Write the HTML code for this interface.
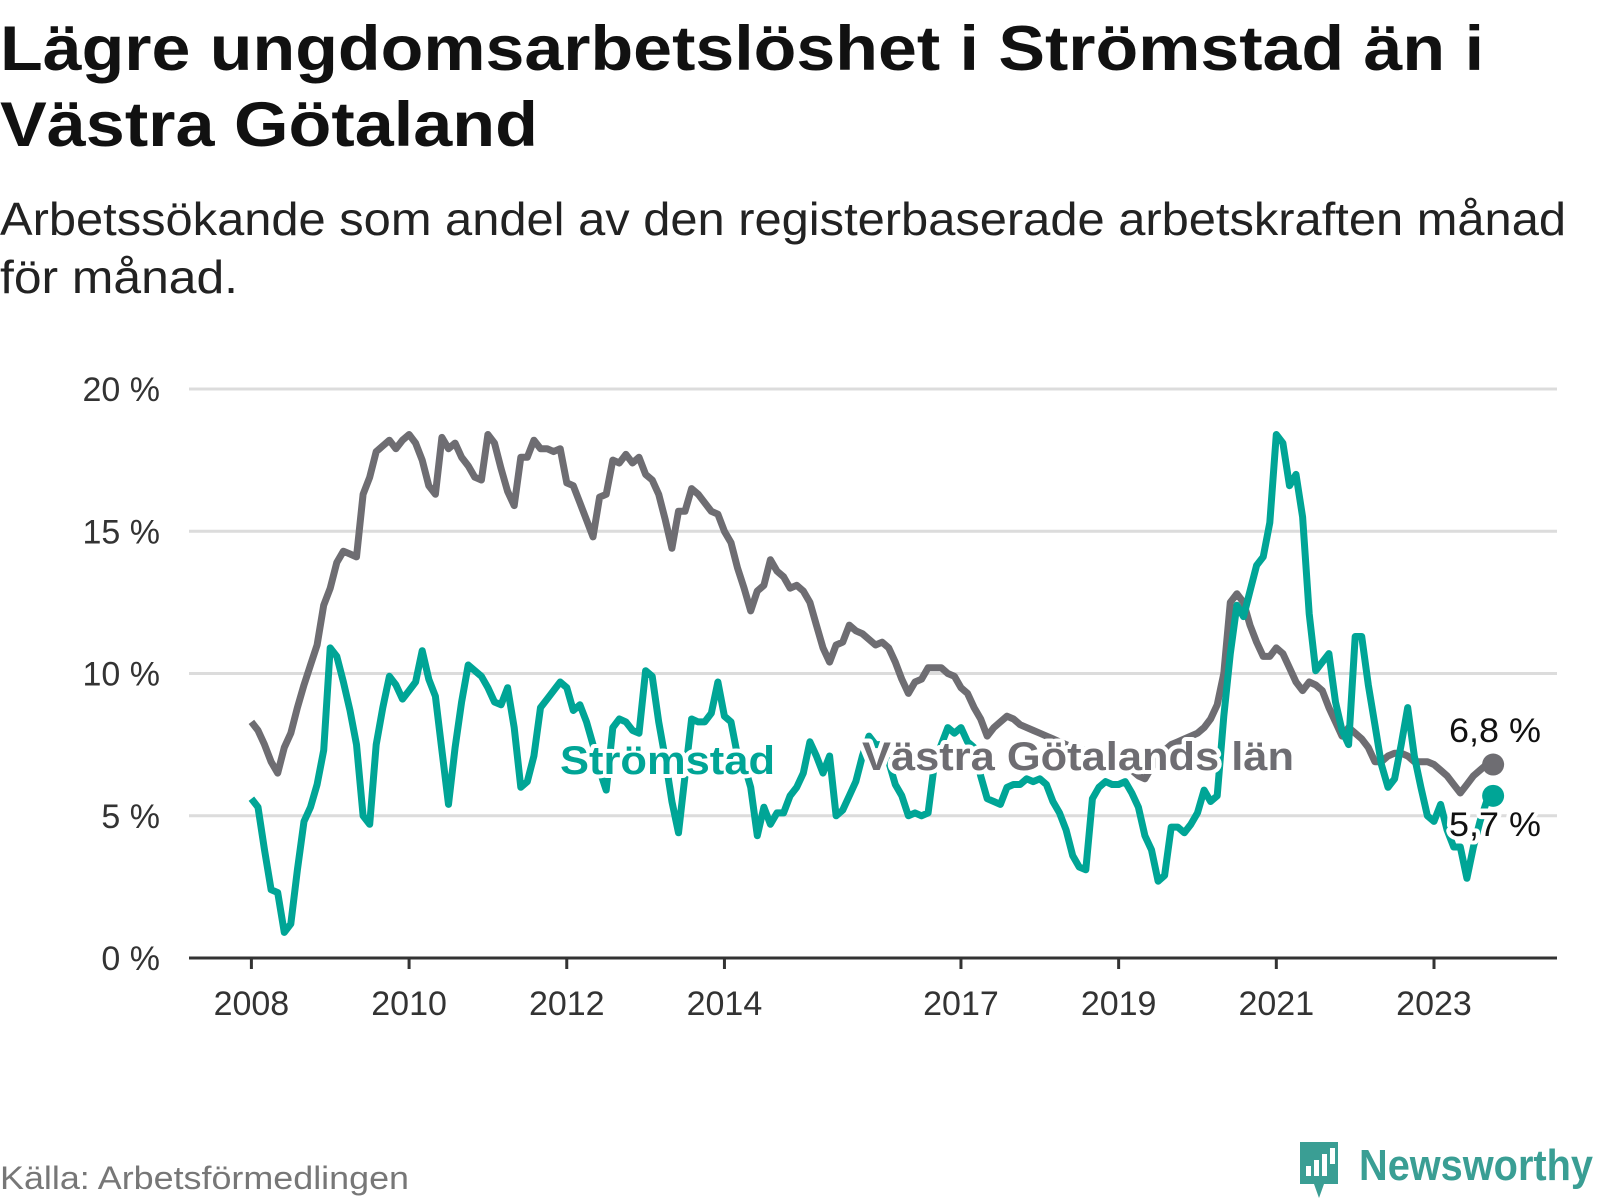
<!DOCTYPE html>
<html><head><meta charset="utf-8">
<style>
html,body{margin:0;padding:0;background:#fff;}
body{width:1600px;height:1200px;position:relative;overflow:hidden;}
svg text{font-family:"Liberation Sans","DejaVu Sans",sans-serif;}
</style></head>
<body>
<svg id="chart" width="1600" height="1200" style="position:absolute;left:0;top:0">
<text x="0" y="70" font-size="63" font-weight="bold" fill="#111" textLength="1484" lengthAdjust="spacingAndGlyphs">Lägre ungdomsarbetslöshet i Strömstad än i</text>
<text x="0" y="146" font-size="63" font-weight="bold" fill="#111" textLength="538" lengthAdjust="spacingAndGlyphs">Västra Götaland</text>
<text x="0" y="235" font-size="46" fill="#222" textLength="1566" lengthAdjust="spacingAndGlyphs">Arbetssökande som andel av den registerbaserade arbetskraften månad</text>
<text x="0" y="293" font-size="46" fill="#222" textLength="238" lengthAdjust="spacingAndGlyphs">för månad.</text>
<text x="0" y="1189" font-size="32" fill="#777" textLength="409" lengthAdjust="spacingAndGlyphs">Källa: Arbetsförmedlingen</text>
<g>
<path d="M1300 1142h38v42h-14l-5 14-5-14h-14z" fill="#3a9e94"/>
<rect x="1306" y="1166" width="5" height="10" fill="#fff"/><rect x="1314" y="1160" width="5" height="16" fill="#fff"/><rect x="1322" y="1154" width="5" height="22" fill="#fff"/><rect x="1330" y="1148" width="5" height="16" fill="#fff"/>
<text x="1359" y="1180" font-size="44" font-weight="bold" fill="#3a9e94" textLength="234" lengthAdjust="spacingAndGlyphs">Newsworthy</text>
</g>
</svg>
<script>
const startYear = 2008;
const yTicks = [0,5,10,15,20];
const yTickLabels = ["0 %","5 %","10 %","15 %","20 %"];
const xTickYears = [2008,2010,2012,2014,2017,2019,2021,2023];
const vastraGotaland = [
8.3,8.0,7.5,6.9,6.5,7.4,7.9,8.8,9.6,10.3,11.0,12.4,
13.0,13.9,14.3,14.2,14.1,16.3,16.9,17.8,18.0,18.2,17.9,18.2,
18.4,18.1,17.5,16.6,16.3,18.3,17.9,18.1,17.6,17.3,16.9,16.8,
18.4,18.1,17.2,16.4,15.9,17.6,17.6,18.2,17.9,17.9,17.8,17.9,
16.7,16.6,16.0,15.4,14.8,16.2,16.3,17.5,17.4,17.7,17.4,17.6,
17.0,16.8,16.3,15.4,14.4,15.7,15.7,16.5,16.3,16.0,15.7,15.6,
15.0,14.6,13.7,13.0,12.2,12.9,13.1,14.0,13.6,13.4,13.0,13.1,
12.9,12.5,11.7,10.9,10.4,11.0,11.1,11.7,11.5,11.4,11.2,11.0,
11.1,10.9,10.4,9.8,9.3,9.7,9.8,10.2,10.2,10.2,10.0,9.9,
9.5,9.3,8.8,8.4,7.8,8.1,8.3,8.5,8.4,8.2,8.1,8.0,
7.9,7.8,7.7,7.6,7.5,7.4,7.3,7.3,7.2,7.2,7.1,7.0,
6.9,6.8,6.6,6.4,6.3,6.7,7.0,7.3,7.5,7.6,7.7,7.8,
7.9,8.1,8.4,8.9,10.0,12.5,12.8,12.5,11.7,11.1,10.6,10.6,
10.9,10.7,10.2,9.7,9.4,9.7,9.6,9.4,8.8,8.3,7.8,8.1,
7.9,7.7,7.4,6.9,6.9,7.1,7.2,7.2,7.1,6.9,6.9,6.9,
6.8,6.6,6.4,6.1,5.8,6.1,6.4,6.6,6.8,6.8];
const stromstad = [
5.6,5.3,3.8,2.4,2.3,0.9,1.2,3.1,4.8,5.3,6.1,7.3,
10.9,10.6,9.7,8.7,7.5,5.0,4.7,7.5,8.8,9.9,9.6,9.1,
9.4,9.7,10.8,9.8,9.2,7.3,5.4,7.4,9.0,10.3,10.1,9.9,
9.5,9.0,8.9,9.5,8.1,6.0,6.2,7.1,8.8,9.1,9.4,9.7,
9.5,8.7,8.9,8.3,7.5,6.6,5.9,8.1,8.4,8.3,8.0,7.9,
10.1,9.9,8.3,7.0,5.5,4.4,6.4,8.4,8.3,8.3,8.6,9.7,
8.5,8.3,7.1,6.8,6.0,4.3,5.3,4.7,5.1,5.1,5.7,6.0,
6.5,7.6,7.1,6.5,7.1,5.0,5.2,5.7,6.2,7.1,7.8,7.5,
7.5,6.9,6.1,5.7,5.0,5.1,5.0,5.1,6.9,7.5,8.1,7.9,
8.1,7.6,7.4,6.4,5.6,5.5,5.4,6.0,6.1,6.1,6.3,6.2,
6.3,6.1,5.5,5.1,4.5,3.6,3.2,3.1,5.6,6.0,6.2,6.1,
6.1,6.2,5.8,5.3,4.3,3.8,2.7,2.9,4.6,4.6,4.4,4.7,
5.1,5.9,5.5,5.7,8.5,10.7,12.4,12.0,12.9,13.8,14.1,15.3,
18.4,18.1,16.6,17.0,15.5,12.1,10.1,10.4,10.7,9.0,8.0,7.5,
11.3,11.3,9.6,8.2,6.8,6.0,6.3,7.5,8.8,7.1,6.0,5.0,
4.8,5.4,4.5,3.9,3.9,2.8,3.9,4.8,5.5,5.7];
const endLabels = ["6,8 %","5,7 %"];

const NS = "http://www.w3.org/2000/svg";
const svg = document.getElementById("chart");
const X0 = 251.4, PXM = 6.57, Y0 = 958, PXP = 28.45;
function xScale(monthIndex){ return X0 + monthIndex * PXM; }
function yScale(v){ return Y0 - v * PXP; }
function el(tag, attrs){ const e = document.createElementNS(NS, tag); for (const k in attrs) e.setAttribute(k, attrs[k]); svg.appendChild(e); return e; }

yTicks.forEach((t,i)=>{
  if (t>0) {
    const g = el("line",{x1:189,x2:1557,y1:yScale(t),y2:yScale(t),stroke:"#dcdcdc","stroke-width":3});
    
    
  }
  const tx = el("text",{x:160,y:yScale(t)+12,"text-anchor":"end","font-size":34,fill:"#333"});
  tx.textContent = yTickLabels[i];
  
  
});
const axis = el("line",{x1:189,x2:1557,y1:Y0,y2:Y0,stroke:"#333","stroke-width":3});


xTickYears.forEach(yr=>{
  const x = xScale((yr-startYear)*12);
  const tk = el("line",{x1:x,x2:x,y1:Y0,y2:Y0+11,stroke:"#333","stroke-width":3});
  
  
  const tx = el("text",{x:x,y:1015,"text-anchor":"middle","font-size":34,fill:"#333"});
  tx.textContent = yr;
  
  
});
function drawLine(data,color,name){
  const d = data.map((v,i)=>(i?"L":"M")+xScale(i).toFixed(1)+" "+yScale(v).toFixed(1)).join(" ");
  const p = el("path",{d:d,fill:"none",stroke:color,"stroke-width":7,"stroke-linejoin":"round"});
  
  
  const last = data.length-1;
  const c = el("circle",{cx:xScale(last),cy:yScale(data[last]),r:11,fill:color});
  
  
}
drawLine(vastraGotaland,"#6e6d72","vastra-gotaland-line");
drawLine(stromstad,"#00a596","stromstad-line");

function label(x,y,txt,color,size,weight,name,len){
  const t = el("text",{x:x,y:y,"font-size":size,"font-weight":weight,fill:color,stroke:"#fff","stroke-width":8,"paint-order":"stroke","stroke-linejoin":"round",textLength:len,lengthAdjust:"spacingAndGlyphs"});
  t.textContent = txt;
  
  
}
label(560,774,"Strömstad","#00a596",40,"bold","stromstad-label",215);
label(862,770,"Västra Götalands län","#6e6d72",40,"bold","vastra-gotaland-label",432);
label(1449,742,endLabels[0],"#111",34,"normal","end-value-vastra-gotaland",92);
label(1449,836,endLabels[1],"#111",34,"normal","end-value-stromstad",92);
</script>
</body></html>
